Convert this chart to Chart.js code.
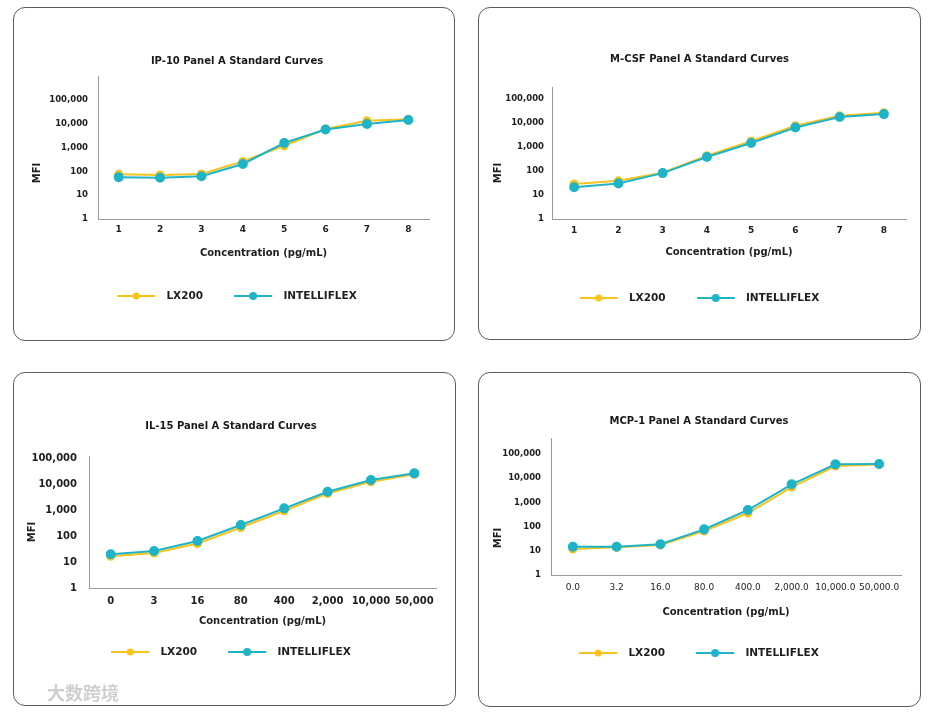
<!DOCTYPE html>
<html>
<head>
<meta charset="utf-8">
<script src="https://cdn.jsdelivr.net/npm/chart.js@4.4.1/dist/chart.umd.min.js"></script>
<style>
html,body{margin:0;padding:0;background:#fff;width:933px;height:715px;overflow:hidden;}
.panel{position:absolute;box-sizing:border-box;border:1px solid #5c5c5c;border-radius:12px;background:#fff;overflow:hidden;}
.panel canvas{position:absolute;left:0;top:0;}
.wm{position:absolute;left:47px;top:680px;font-family:"Noto Sans CJK SC";font-weight:700;font-size:18px;line-height:24px;color:rgba(175,175,175,0.6);}
</style>
</head>
<body>
<div class="panel" style="left:13px;top:7px;width:442px;height:334px;"><canvas id="c1" width="440" height="332"></canvas></div>
<div class="panel" style="left:478px;top:7px;width:443px;height:333px;"><canvas id="c2" width="441" height="331"></canvas></div>
<div class="panel" style="left:13px;top:372px;width:443px;height:334px;"><canvas id="c3" width="441" height="332"></canvas></div>
<div class="panel" style="left:478px;top:372px;width:443px;height:335px;"><canvas id="c4" width="441" height="333"></canvas></div>
<div class="wm">大数跨境</div>
<script>
// ---------- data ----------
const seriesNames = ['LX200', 'INTELLIFLEX'];
const yTickValues = [1, 10, 100, 1000, 10000, 100000];
const yTickLabels = ['1', '10', '100', '1,000', '10,000', '100,000'];
const xAxisTitle = 'Concentration (pg/mL)';
const yAxisTitle = 'MFI';

const ip10Title = 'IP-10 Panel A Standard Curves';
const ip10Categories = ['1', '2', '3', '4', '5', '6', '7', '8'];
const ip10LX200 = [75, 70, 77, 261, 1190, 5980, 13300, 15500];
const ip10Intelliflex = [56, 54, 62, 203, 1545, 5700, 9700, 14300];

const mcsfTitle = 'M-CSF Panel A Standard Curves';
const mcsfCategories = ['1', '2', '3', '4', '5', '6', '7', '8'];
const mcsfLX200 = [29, 39, 85, 434, 1745, 7720, 20100, 26900];
const mcsfIntelliflex = [21, 30, 82, 383, 1470, 6560, 17800, 23700];

const il15Title = 'IL-15 Panel A Standard Curves';
const il15Categories = ['0', '3', '16', '80', '400', '2,000', '10,000', '50,000'];
const il15LX200 = [16.6, 22.2, 51.5, 212, 940, 4310, 12250, 23600];
const il15Intelliflex = [19.8, 26.5, 64, 265, 1160, 5060, 14250, 25800];

const mcp1Title = 'MCP-1 Panel A Standard Curves';
const mcp1Categories = ['0.0', '3.2', '16.0', '80.0', '400.0', '2,000.0', '10,000.0', '50,000.0'];
const mcp1LX200 = [11.9, 14, 17.4, 66, 365, 4330, 31900, 37000];
const mcp1Intelliflex = [14.8, 14.8, 18.6, 77, 485, 5600, 37500, 38600];

// ---------- styles ----------
const LX_COLOR = '#F7C31C';
const INT_COLOR = '#1FB3C7';
Chart.defaults.font.family = "'DejaVu Sans', Verdana, sans-serif";
Chart.defaults.color = '#1e1e1e';

function legendIcon(color, r) {
  const c = document.createElement('canvas');
  c.width = 44; c.height = 12;
  const g = c.getContext('2d');
  g.strokeStyle = color; g.lineWidth = 2;
  g.beginPath(); g.moveTo(0, 6); g.lineTo(38, 6); g.stroke();
  g.fillStyle = color;
  g.beginPath(); g.arc(19, 6, r, 0, Math.PI * 2); g.fill();
  return c;
}
const icons = [legendIcon(LX_COLOR, 3.5), legendIcon(INT_COLOR, 4)];

const yTitlePlugin = {
  id: 'yTitleText',
  afterDraw(chart, args, opts) {
    const ctx = chart.ctx;
    ctx.save();
    ctx.translate(opts.x, opts.y);
    ctx.rotate(-Math.PI / 2);
    ctx.font = "bold 10px 'DejaVu Sans'";
    ctx.fillStyle = '#1e1e1e';
    ctx.textAlign = 'center';
    ctx.textBaseline = 'middle';
    ctx.fillText(opts.text, 0, 0);
    ctx.restore();
  }
};

const panels = [
  { canvas: 'c1', title: ip10Title, categories: ip10Categories, lx: ip10LX200, it: ip10Intelliflex, yMax: 1e6,
    pad: {left: 31, right: 25, bottom: 28.75}, titlePad: {top: 47, bottom: 9}, yW: 53, xH: 40.75,
    yTickPad: 10, yTickFont: {size: 8.5, weight: 'bold'}, xTickPad: 5.5, xTickFont: {size: 9, weight: 'bold'},
    xTitlePadBottom: 0, mfi: {x: 23, y: 165} },
  { canvas: 'c2', title: mcsfTitle, categories: mcsfCategories, lx: mcsfLX200, it: mcsfIntelliflex, yMax: 3.2e5,
    pad: {left: 14, right: 14, bottom: 25.75}, titlePad: {top: 45, bottom: 22}, yW: 59, xH: 42.75,
    yTickPad: 8, yTickFont: {size: 8.5, weight: 'bold'}, xTickPad: 6.6, xTickFont: {size: 9, weight: 'bold'},
    xTitlePadBottom: 3.75, mfi: {x: 19, y: 165} },
  { canvas: 'c3', title: il15Title, categories: il15Categories, lx: il15LX200, it: il15Intelliflex, yMax: 1.2e5,
    pad: {left: 12, right: 19, bottom: 37.75}, titlePad: {top: 47, bottom: 24}, yW: 63, xH: 27.75,
    yTickPad: 12, yTickFont: {size: 10, weight: 'bold'}, xTickPad: 7, xTickFont: {size: 10, weight: 'bold'},
    xTitlePadBottom: -11.25, mfi: {x: 18, y: 159} },
  { canvas: 'c4', title: mcp1Title, categories: mcp1Categories, lx: mcp1LX200, it: mcp1Intelliflex, yMax: 4.6e5,
    pad: {left: 18, right: 19, bottom: 37.75}, titlePad: {top: 42, bottom: 11}, yW: 54, xH: 41.75,
    yTickPad: 10, yTickFont: {size: 8.5, weight: 'bold'}, xTickPad: 7.6, xTickFont: {size: 9, weight: 'normal'},
    xTitlePadBottom: -1.25, mfi: {x: 19, y: 165} }
];

panels.forEach(p => {
  new Chart(document.getElementById(p.canvas), {
    type: 'line',
    data: {
      labels: p.categories,
      datasets: [
        { label: seriesNames[0], data: p.lx, order: 2, borderColor: LX_COLOR, backgroundColor: LX_COLOR,
          pointBackgroundColor: LX_COLOR, pointBorderColor: LX_COLOR, borderWidth: 2, pointRadius: 3.5, tension: 0 },
        { label: seriesNames[1], data: p.it, order: 1, borderColor: INT_COLOR, backgroundColor: INT_COLOR,
          pointBackgroundColor: INT_COLOR, pointBorderColor: INT_COLOR, borderWidth: 2, pointRadius: 4, tension: 0 }
      ]
    },
    options: {
      responsive: false,
      animation: false,
      events: [],
      layout: { autoPadding: false, padding: { top: 0, left: p.pad.left, right: p.pad.right, bottom: p.pad.bottom } },
      plugins: {
        title: { display: true, text: p.title, font: { size: 10, weight: 'bold' }, color: '#1a1a1a',
                 padding: { top: p.titlePad.top, bottom: p.titlePad.bottom } },
        legend: {
          display: true, position: 'bottom',
          labels: {
            usePointStyle: true, pointStyleWidth: 44, padding: 31,
            font: { size: 10.5, weight: 'bold' }, color: '#1e1e1e',
            generateLabels: (chart) => chart.data.datasets.map((ds, i) => ({
              text: ds.label, pointStyle: icons[i], datasetIndex: i, hidden: false,
              fillStyle: ds.borderColor, strokeStyle: ds.borderColor, lineWidth: 0, fontColor: '#1e1e1e'
            }))
          }
        },
        tooltip: { enabled: false },
        yTitleText: { text: yAxisTitle, x: p.mfi.x, y: p.mfi.y }
      },
      scales: {
        x: {
          type: 'category', offset: true,
          grid: { display: false, drawTicks: false },
          border: { display: true, color: '#9a9a9a', width: 1 },
          ticks: { padding: p.xTickPad, font: p.xTickFont, color: '#1e1e1e', autoSkip: false, maxRotation: 0 },
          title: { display: true, text: xAxisTitle, font: { size: 10, weight: 'bold' }, color: '#1e1e1e',
                   padding: { top: 0, bottom: p.xTitlePadBottom } },
          afterFit: (s) => { s.height = p.xH; }
        },
        y: {
          type: 'logarithmic', min: 1, max: p.yMax,
          grid: { display: false, drawTicks: false },
          border: { display: true, color: '#9a9a9a', width: 1 },
          ticks: { padding: p.yTickPad, font: p.yTickFont, color: '#1e1e1e', autoSkip: false,
                   callback: (v) => { const k = yTickValues.indexOf(v); return k >= 0 ? yTickLabels[k] : ''; } },
          afterBuildTicks: (s) => { s.ticks = yTickValues.map(v => ({ value: v })); },
          afterFit: (s) => { s.width = p.yW; }
        }
      }
    },
    plugins: [yTitlePlugin]
  });
});
</script>
</body>
</html>
